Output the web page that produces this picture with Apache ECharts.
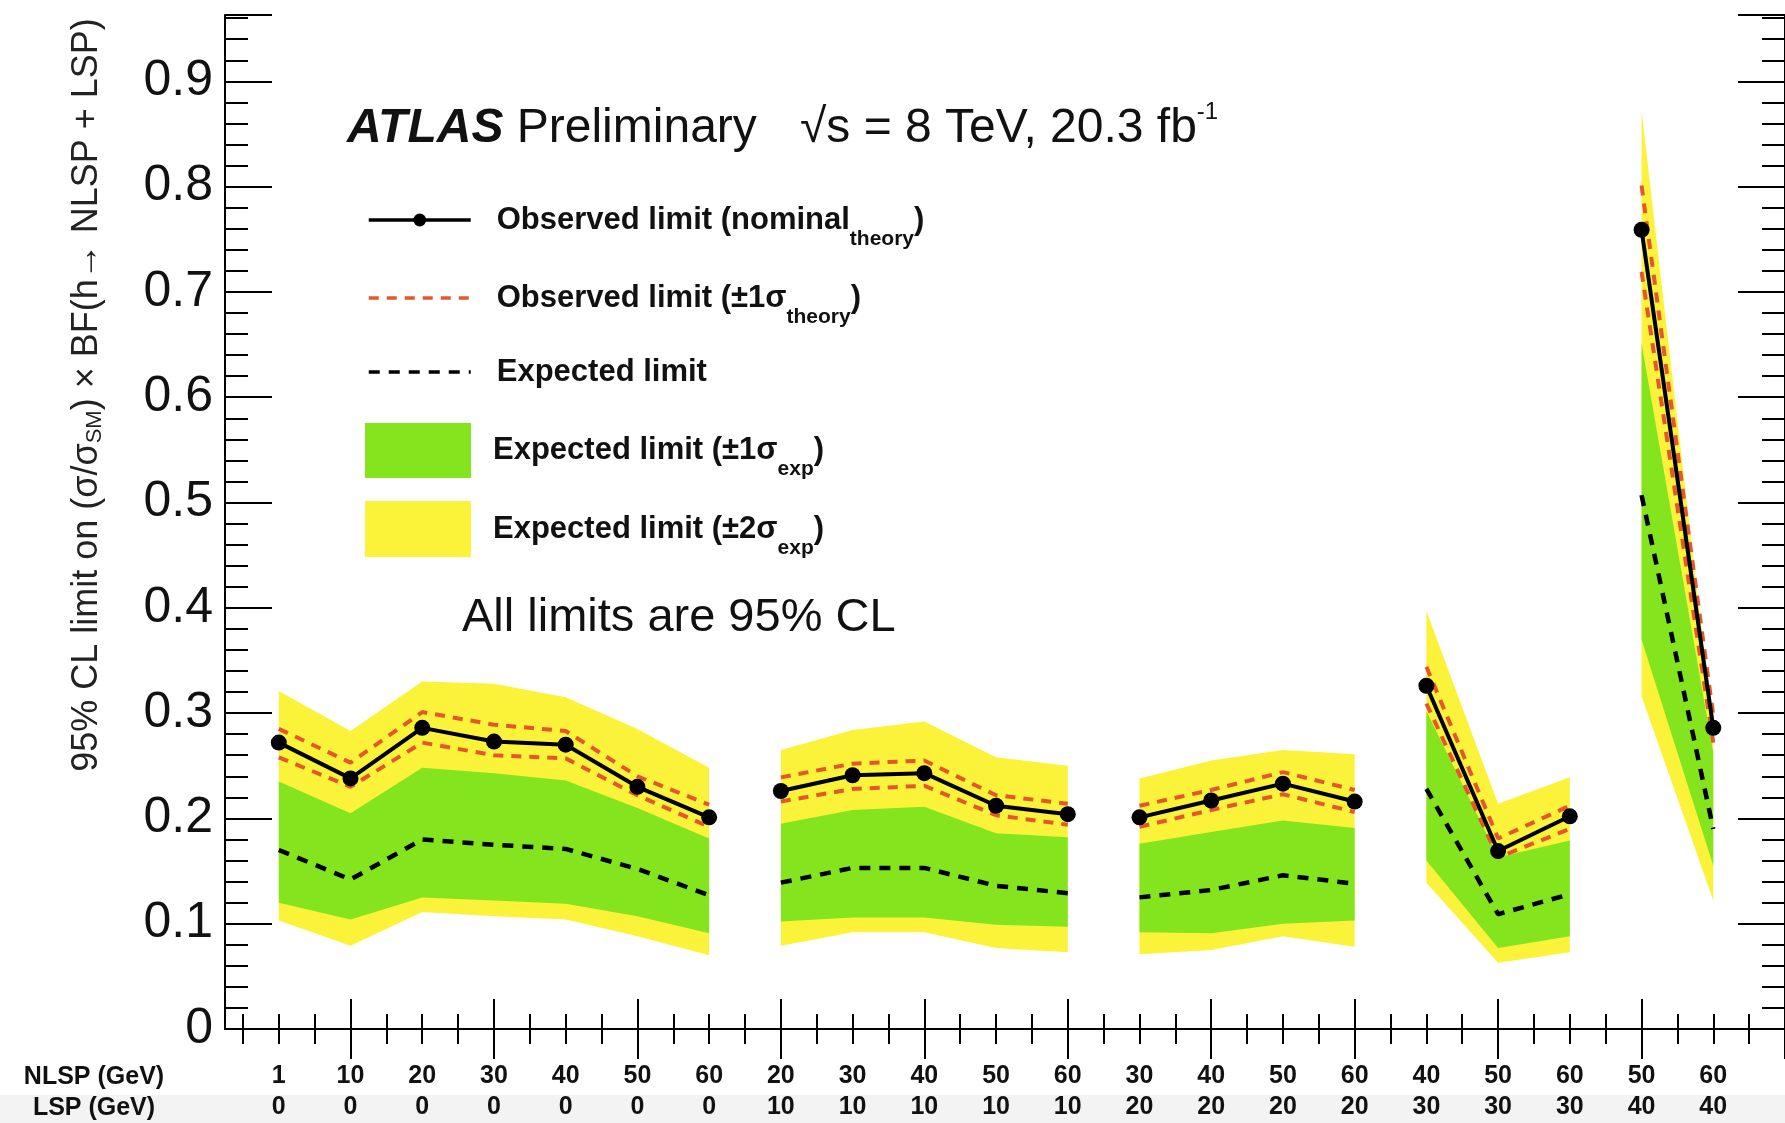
<!DOCTYPE html>
<html>
<head>
<meta charset="utf-8">
<title>h → NLSP + LSP limits</title>
<script src="https://cdn.jsdelivr.net/npm/echarts@6/dist/echarts.min.js"></script>
<style>
  html, body { margin: 0; padding: 0; background: #fff; }
  #main { width: 1785px; height: 1123px; }
</style>
</head>
<body>
<div id="main"></div>
<script>
const FONT = 'Liberation Sans, Arial, Helvetica, sans-serif';

// mass points (GeV)
const nlsp = [1, 10, 20, 30, 40, 50, 60, 20, 30, 40, 50, 60, 30, 40, 50, 60, 40, 50, 60, 50, 60];
const lsp  = [0, 0, 0, 0, 0, 0, 0, 10, 10, 10, 10, 10, 20, 20, 20, 20, 30, 30, 30, 40, 40];

// limits
const observed     = [0.272, 0.238, 0.286, 0.273, 0.270, 0.230, 0.201, 0.226, 0.241, 0.243, 0.212, 0.204, 0.201, 0.217, 0.233, 0.216, 0.326, 0.169, 0.202, 0.759, 0.286];
const observedUp   = [0.285, 0.253, 0.301, 0.289, 0.283, 0.240, 0.213, 0.239, 0.252, 0.255, 0.222, 0.214, 0.212, 0.227, 0.244, 0.227, 0.344, 0.181, 0.212, 0.801, 0.298];
const observedDown = [0.258, 0.230, 0.272, 0.260, 0.257, 0.222, 0.192, 0.216, 0.228, 0.231, 0.203, 0.194, 0.192, 0.208, 0.223, 0.206, 0.309, 0.163, 0.190, 0.719, 0.272];
const expected     = [0.170, 0.142, 0.180, 0.175, 0.171, 0.152, 0.127, 0.139, 0.153, 0.153, 0.136, 0.129, 0.125, 0.132, 0.146, 0.138, 0.228, 0.109, 0.128, 0.507, 0.190];
const exp1Up       = [0.235, 0.205, 0.248, 0.243, 0.236, 0.210, 0.181, 0.195, 0.208, 0.211, 0.186, 0.182, 0.176, 0.187, 0.198, 0.191, 0.302, 0.163, 0.179, 0.651, 0.262];
const exp1Down     = [0.120, 0.104, 0.125, 0.122, 0.119, 0.107, 0.091, 0.102, 0.106, 0.106, 0.099, 0.097, 0.092, 0.091, 0.100, 0.103, 0.160, 0.077, 0.088, 0.370, 0.155];
const exp2Up       = [0.321, 0.283, 0.330, 0.328, 0.315, 0.285, 0.248, 0.265, 0.284, 0.292, 0.258, 0.250, 0.238, 0.255, 0.265, 0.261, 0.397, 0.214, 0.239, 0.872, 0.283];
const exp2Down     = [0.103, 0.079, 0.111, 0.107, 0.104, 0.088, 0.070, 0.079, 0.092, 0.092, 0.077, 0.073, 0.071, 0.075, 0.088, 0.078, 0.139, 0.063, 0.073, 0.316, 0.122];

const yMax = 0.963;

// x runs in quarter steps from 0.25 to 22; mass point k sits at k + 1
const xSteps = [];
for (let i = 0; i <= 87; i++) xSteps.push((0.25 + i * 0.25).toFixed(2));
const xIdx = k => 4 * k + 3;

// points with the same LSP mass are joined
const groups = [];
lsp.forEach((v, k) => {
  if (k === 0 || v !== lsp[k - 1]) groups.push([]);
  groups[groups.length - 1].push(k);
});

function lineData(vals) {
  const out = [];
  groups.forEach((g, gi) => {
    if (gi > 0) out.push([xIdx(g[0]) - 2, null]);
    g.forEach(k => out.push([xIdx(k), vals[k]]));
  });
  return out;
}

function band(lo, hi) {
  return function (params, api) {
    const g = groups[api.value(0)];
    const pts = g.map(k => api.coord([xIdx(k), hi[k]]))
      .concat(g.slice().reverse().map(k => api.coord([xIdx(k), lo[k]])));
    return { type: 'polygon', shape: { points: pts }, style: { fill: api.visual('color') } };
  };
}

const YELLOW = '#fbf23a';
const GREEN = '#84e41e';
const RED = '#e4572c';

const legendText = {
  obs: 'Observed limit (nominal{s|theory})',
  theory: 'Observed limit (±1σ{s|theory})',
  exp: 'Expected limit',
  one: 'Expected limit (±1σ{s|exp})',
  two: 'Expected limit (±2σ{s|exp})'
};

function legendItem(name, left, top, w, h, icon, noDot) {
  const item = { name: name };
  if (icon) item.icon = icon;
  const lg = {
    data: [item], left: left, top: top, padding: 0,
    itemWidth: w, itemHeight: h, selectedMode: false,
    formatter: n => legendText[n],
    textStyle: {
      fontFamily: FONT, fontSize: 31, fontWeight: 'bold', color: '#111',
      lineHeight: 38, padding: [0, 0, 0, 123 - w],
      rich: { s: { fontFamily: FONT, fontSize: 21, fontWeight: 'bold', color: '#111', padding: [38, 0, 0, 0] } }
    }
  };
  if (!icon) lg.lineStyle = { width: 3.5 };
  if (noDot) lg.itemStyle = { opacity: 0 };
  return lg;
}

const frameLine = { show: true, lineStyle: { color: '#000', width: 2 } };

function xAx(pos, every, offset, len, withLine, withLabels) {
  return {
    type: 'category', data: xSteps, position: pos, boundaryGap: false,
    axisLine: withLine ? frameLine : { show: false },
    axisTick: { show: true, inside: true, length: len, interval: i => i % every === offset, lineStyle: { color: '#000', width: 2 } },
    axisLabel: withLabels ? {
      show: true, interval: i => i % 4 === 3, margin: 32,
      fontFamily: FONT, fontSize: 25, fontWeight: 'bold', color: '#111', lineHeight: 31,
      formatter: (v, i) => { const k = (i - 3) / 4; return nlsp[k] + '\n' + lsp[k]; }
    } : { show: false },
    splitLine: { show: false }
  };
}

function yAx(pos, interval, len, withLine, withLabels) {
  return {
    type: 'value', position: pos, min: 0, max: yMax, interval: interval,
    axisLine: withLine ? frameLine : { show: false },
    axisTick: { show: true, inside: true, length: len, lineStyle: { color: '#000', width: 2 } },
    axisLabel: withLabels ? {
      show: true, margin: 12, fontFamily: FONT, fontSize: 50, color: '#111',
      formatter: v => Math.abs(v * 10 - Math.round(v * 10)) < 1e-6 ? String(+v.toFixed(1)) : ''
    } : { show: false },
    splitLine: { show: false }
  };
}

const chart = echarts.init(document.getElementById('main'));

chart.setOption({
  animation: false,
  backgroundColor: '#fff',
  textStyle: { fontFamily: FONT },
  grid: { left: 225, right: -6, top: 15, bottom: 94 },
  xAxis: [
    xAx('bottom', 2, 1, 15, true, true),
    xAx('bottom', 8, 7, 30, false, false),
    xAx('top', 2, 1, 15, true, false),
    xAx('top', 8, 7, 30, false, false)
  ],
  yAxis: [
    yAx('left', 0.1, 47, true, true),
    yAx('left', 0.02, 23, false, false),
    yAx('right', 0.1, 47, true, false),
    yAx('right', 0.02, 23, false, false)
  ],
  legend: [
    legendItem('obs', 367, 201, 102, 16),
    legendItem('theory', 367, 279, 102, 16, null, true),
    legendItem('exp', 367, 353, 102, 16, null, true),
    legendItem('one', 365, 423, 106, 55, 'rect'),
    legendItem('two', 365, 501, 106, 56, 'rect')
  ],
  series: [
    {
      name: 'two', type: 'custom', z: 1,
      itemStyle: { color: YELLOW },
      data: groups.map((g, gi) => [gi, 0]),
      renderItem: band(exp2Down, exp2Up)
    },
    {
      name: 'one', type: 'custom', z: 2,
      itemStyle: { color: GREEN },
      data: groups.map((g, gi) => [gi, 0]),
      renderItem: band(exp1Down, exp1Up)
    },
    {
      name: 'exp', type: 'line', z: 3, symbol: 'none', color: '#000',
      lineStyle: { color: '#000', width: 4.5, type: [11, 9] },
      data: lineData(expected)
    },
    {
      name: 'theory', type: 'line', z: 4, symbol: 'none', color: RED,
      lineStyle: { color: RED, width: 4, type: [10, 8] },
      data: lineData(observedUp)
    },
    {
      name: 'theory', type: 'line', z: 4, symbol: 'none', color: RED,
      lineStyle: { color: RED, width: 4, type: [10, 8] },
      data: lineData(observedDown)
    },
    {
      name: 'obs', type: 'line', z: 5, symbol: 'circle', symbolSize: 16,
      showSymbol: true, showAllSymbol: true, color: '#000',
      itemStyle: { color: '#000' },
      lineStyle: { color: '#000', width: 4 },
      data: lineData(observed)
    }
  ],
  graphic: [
    { type: 'rect', z: -10, silent: true, shape: { x: 0, y: 1095, width: 1785, height: 28 }, style: { fill: '#f3f3f3' } },
    {
      type: 'text', x: 87, y: 395, rotation: Math.PI / 2, silent: true,
      style: {
        text: '95% CL limit on (σ/σ{s|SM}) × BF(h→ NLSP + LSP)',
        fontFamily: FONT, fontSize: 36, fill: '#222', align: 'center', verticalAlign: 'middle',
        rich: { s: { fontFamily: FONT, fontSize: 22, fill: '#222', padding: [16, 0, 0, 0] } }
      }
    },
    {
      type: 'text', x: 347, y: 129, silent: true,
      style: {
        text: '{a|ATLAS} Preliminary', fontFamily: FONT, fontSize: 48, fill: '#111', verticalAlign: 'middle',
        rich: { a: { fontFamily: FONT, fontSize: 48, fontWeight: 'bold', fontStyle: 'italic', fill: '#111' } }
      }
    },
    {
      type: 'text', x: 800, y: 129, silent: true,
      style: {
        text: '√s = 8 TeV, 20.3 fb{u|-1}', fontFamily: FONT, fontSize: 48, fill: '#111', verticalAlign: 'middle',
        rich: { u: { fontFamily: FONT, fontSize: 24, fill: '#111', padding: [0, 0, 34, 0] } }
      }
    },
    {
      type: 'text', x: 462, y: 618, silent: true,
      style: { text: 'All limits are 95% CL', fontFamily: FONT, fontSize: 47, fill: '#111', verticalAlign: 'middle' }
    },
    {
      type: 'text', x: 94, y: 1077, silent: true,
      style: { text: 'NLSP (GeV)', fontFamily: FONT, fontSize: 25, fontWeight: 'bold', fill: '#111', align: 'center', verticalAlign: 'middle' }
    },
    {
      type: 'text', x: 94, y: 1108, silent: true,
      style: { text: 'LSP (GeV)', fontFamily: FONT, fontSize: 25, fontWeight: 'bold', fill: '#111', align: 'center', verticalAlign: 'middle' }
    }
  ]
});
</script>
</body>
</html>
